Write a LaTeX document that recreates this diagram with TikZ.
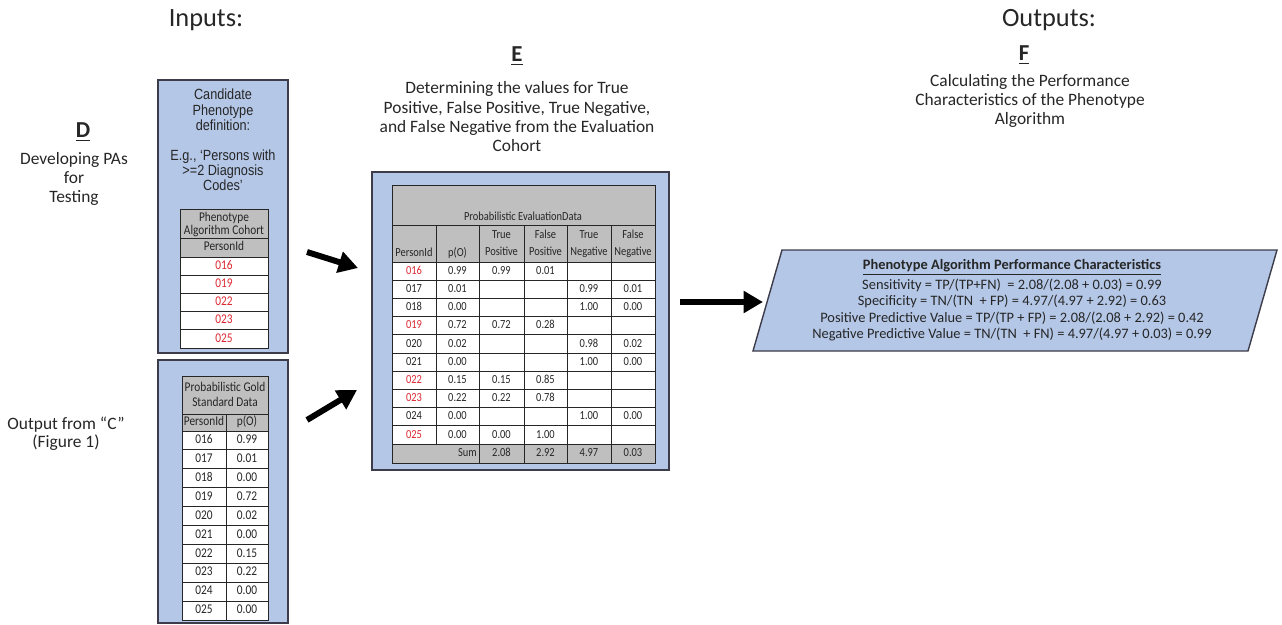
\documentclass[tikz,border=0pt]{standalone}
\usepackage{fontspec}
\setmainfont{Carlito}
\newfontfamily\arialn[FakeStretch=0.86]{Liberation Sans}
\newfontfamily\tabfont[FakeStretch=0.85]{Carlito}
\usetikzlibrary{arrows.meta}

\definecolor{boxblu}{RGB}{180,199,231}
\definecolor{bordo}{RGB}{60,60,75}
\definecolor{grigio}{RGB}{191,191,191}
\definecolor{idred}{RGB}{220,40,50}
\definecolor{testo}{RGB}{38,38,38}

\begin{document}
\begin{tikzpicture}[x=0.02cm, y=-0.02cm, line width=0.8pt,
    pannello/.style={fill=boxblu, draw=bordo, line width=0.8pt},
    cella/.style={draw=black!85, line width=0.55pt},
    tab/.style={font=\tabfont\fontsize{7}{8}\selectfont, inner sep=0pt, text height=5pt, text depth=1.4pt, text=testo},
    tabg/.style={tab, font=\tabfont\fontsize{7.6}{8}\selectfont},
    titolo/.style={font=\fontsize{15}{17}\selectfont, text=testo},
    lettera/.style={font=\bfseries\fontsize{13}{15}\selectfont, text=testo},
    descr/.style={font=\fontsize{9.9}{11}\selectfont, align=center, text=testo},
    freccia/.style={line width=3.4pt, -{Triangle[length=11pt, width=12pt]}}]

    \useasboundingbox (0,0) rectangle (1282,625);

    % -- Titoli --
    \node[titolo] (inputs) at (206,20) {Inputs:};
    \node[titolo] (outputs) at (1049,20) {Outputs:};

    \node[lettera] (letD) at (83,132) {\underline{D}};
    \node[descr] (txtD) at (74,179) {Developing PAs\\for\\Testing};
    \node[descr, font=\fontsize{9.9}{10.4}\selectfont] (txtC) at (66,434) {Output from “C”\\(Figure 1)};

    \node[lettera] (letE) at (517,56) {\underline{E}};
    \node[descr] (txtE) at (517,117) {Determining the values for True\\Positive, False Positive, True Negative,\\and False Negative from the Evaluation\\Cohort};

    \node[lettera] (letF) at (1024,55) {\underline{F}};
    \node[descr] (txtF) at (1030,101) {Calculating the Performance\\Characteristics of the Phenotype\\Algorithm};

    % -- Parte Sinistra: definizione del fenotipo --
    \draw[pannello] (158,80) rectangle (288,353);
    \node[font=\arialn\fontsize{8.4}{8.6}\selectfont, align=center, text=testo] (defin) at (223,140)
        {Candidate\\Phenotype\\definition:\\[8.6pt]E.g., ‘Persons with\\>=2 Diagnosis\\Codes’};

    \fill[grigio] (180,209) rectangle (268,257);
    \fill[white] (180,257) rectangle (268,348);
    \draw[cella] (180,209) rectangle (268,348);
    \draw[cella] (180,238) -- (268,238);
    \foreach \k in {0,...,4} \draw[cella] (180,{257+18.2*\k}) -- (268,{257+18.2*\k});
    \node[tabg] (pacH1) at (224,218) {Phenotype};
    \node[tabg] (pacH2) at (224,231) {Algorithm Cohort};
    \node[tabg] (pacH3) at (224,247.5) {PersonId};
    \foreach \pid [count=\r] in {016,019,022,023,025}
        \node[tabg, text=idred] (pac\r) at (224,{257+18.2*(\r-0.5)}) {\pid};

    % -- Parte Sinistra: gold standard --
    \draw[pannello] (158,360) rectangle (288,623);
    \fill[grigio] (182,376) rectangle (268,431);
    \fill[white] (182,431) rectangle (268,620);
    \draw[cella] (182,376) rectangle (268,620);
    \draw[cella] (182,414) -- (268,414);
    \draw[cella] (226,414) -- (226,620);
    \foreach \k in {0,...,9} \draw[cella] (182,{431+18.9*\k}) -- (268,{431+18.9*\k});
    \node[tabg] (goldH1) at (225,388) {Probabilistic Gold};
    \node[tabg] (goldH2) at (225,403) {Standard Data};
    \node[tabg] (goldH3) at (204,422.5) {PersonId};
    \node[tabg] (goldH4) at (247,422.5) {p(O)};
    \foreach \pid/\po [count=\r] in {016/0.99,017/0.01,018/0.00,019/0.72,020/0.02,
                                      021/0.00,022/0.15,023/0.22,024/0.00,025/0.00}{
        \node[tabg] (gid\r) at (204,{431+18.9*(\r-0.5)}) {\pid};
        \node[tabg] (gpo\r) at (247,{431+18.9*(\r-0.5)}) {\po};
    }

    % -- Parte Centrale: dati di valutazione --
    \draw[pannello] (372,172) rectangle (669,470);
    \fill[grigio] (392,185) rectangle (655,262);
    \fill[white] (392,262) rectangle (655,444);
    \fill[grigio] (392,444) rectangle (655,463);
    \draw[cella] (392,185) rectangle (655,463);
    \draw[cella] (392,225) -- (655,225);
    \foreach \k in {0,...,10} \draw[cella] (392,{262+18.2*\k}) -- (655,{262+18.2*\k});
    \draw[cella] (436,225) -- (436,444);
    \foreach \xx in {479,524,567,611} \draw[cella] (\xx,225) -- (\xx,463);

    \node[tab] (evTit) at (523,217) {Probabilistic EvaluationData};
    \node[tab] (evH1) at (414,253) {PersonId};
    \node[tab] (evH2) at (457.5,253) {p(O)};
    \foreach \xx/\aa/\bb [count=\c] in {501.5/True/Positive, 545.5/False/Positive,
                                         589/True/Negative, 633/False/Negative}{
        \node[tab] (evA\c) at (\xx,235) {\aa};
        \node[tab] (evB\c) at (\xx,252) {\bb};
    }

    \foreach \pid/\po/\tp/\fp/\tn/\fn/\cc [count=\r] in {
        016/0.99/0.99/0.01/{}/{}/idred,
        017/0.01/{}/{}/0.99/0.01/testo,
        018/0.00/{}/{}/1.00/0.00/testo,
        019/0.72/0.72/0.28/{}/{}/idred,
        020/0.02/{}/{}/0.98/0.02/testo,
        021/0.00/{}/{}/1.00/0.00/testo,
        022/0.15/0.15/0.85/{}/{}/idred,
        023/0.22/0.22/0.78/{}/{}/idred,
        024/0.00/{}/{}/1.00/0.00/testo,
        025/0.00/0.00/1.00/{}/{}/idred}{
        \node[tab, text=\cc] (ev\r-id) at (414,{262+18.2*(\r-0.5)}) {\pid};
        \node[tab] (ev\r-po) at (457.5,{262+18.2*(\r-0.5)}) {\po};
        \node[tab] (ev\r-tp) at (501.5,{262+18.2*(\r-0.5)}) {\tp};
        \node[tab] (ev\r-fp) at (545.5,{262+18.2*(\r-0.5)}) {\fp};
        \node[tab] (ev\r-tn) at (589,{262+18.2*(\r-0.5)}) {\tn};
        \node[tab] (ev\r-fn) at (633,{262+18.2*(\r-0.5)}) {\fn};
    }

    % riga delle somme
    \node[tab, anchor=east] (evSum) at (477.5,453.5) {Sum};
    \node[tab] (sumTP) at (501.5,453.5) {2.08};
    \node[tab] (sumFP) at (545.5,453.5) {2.92};
    \node[tab] (sumTN) at (589,453.5) {4.97};
    \node[tab] (sumFN) at (633,453.5) {0.03};

    % -- Parte Destra: caratteristiche --
    \draw[pannello] (782,250) -- (1277,250) -- (1248,351) -- (753,351) -- cycle;
    \node[font=\fontsize{8.2}{9.4}\selectfont, align=center, text=testo] (perf) at (1012,300)
        {\textbf{\underline{Phenotype Algorithm Performance Characteristics}}\\[2pt]
         Sensitivity = TP/(TP+FN) \ = 2.08/(2.08 + 0.03) = 0.99\\
         Specificity = TN/(TN \ + FP) = 4.97/(4.97 + 2.92) = 0.63\\
         Positive Predictive Value = TP/(TP + FP) = 2.08/(2.08 + 2.92) = 0.42\\
         Negative Predictive Value = TN/(TN \ + FN) = 4.97/(4.97 + 0.03) = 0.99};

    % -- Frecce --
    \coordinate (a1s) at (307,252);
    \coordinate (a1e) at (358,268);
    \coordinate (a2s) at (307,420);
    \coordinate (a2e) at (357,390);
    \coordinate (a3s) at (680,302);
    \coordinate (a3e) at (763,302);
    \draw[freccia] (a1s) -- (a1e);
    \draw[freccia] (a2s) -- (a2e);
    \draw[freccia] (a3s) -- (a3e);
\end{tikzpicture}
\end{document}
